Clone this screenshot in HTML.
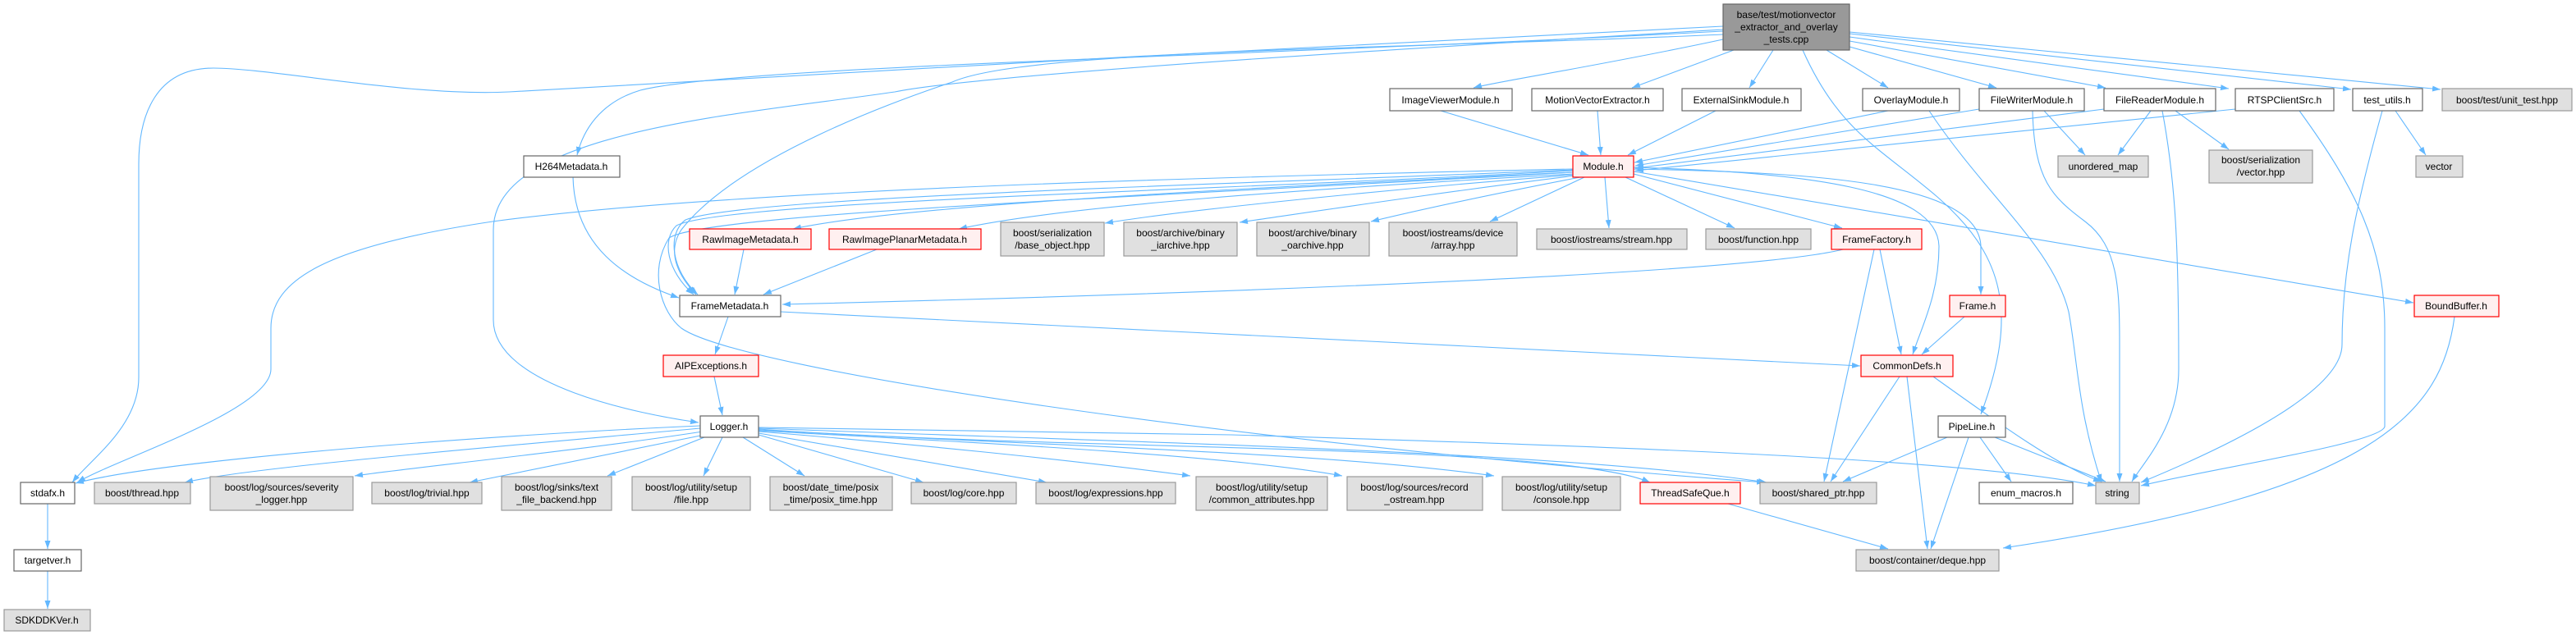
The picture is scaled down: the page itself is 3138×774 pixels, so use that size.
<!DOCTYPE html>
<html><head><meta charset="utf-8"><style>
html,body{margin:0;padding:0;background:#fff;}
svg{display:block;}
text{font-family:"Liberation Sans",Arial,sans-serif;font-size:12px;fill:#000;text-anchor:middle;}
.e{fill:none;stroke:#63b8ff;stroke-width:1.1;marker-end:url(#a);}
.w{fill:#fff;stroke:#666;stroke-width:1.2;}
.g{fill:#e0e0e0;stroke:#999;stroke-width:1.2;}
.r{fill:#fff0f0;stroke:#f00;stroke-width:1.2;}
.m{fill:#999;stroke:#666;stroke-width:1.2;}
</style></head><body>
<svg width="3138" height="774" viewBox="0 0 3138 774" xmlns="http://www.w3.org/2000/svg">
<defs><marker id="a" markerWidth="11" markerHeight="8" refX="10" refY="3.5" orient="auto" markerUnits="userSpaceOnUse"><path d="M0,0 L10,3.5 L0,7 z" fill="#63b8ff"/></marker></defs>

<!-- edges from main -->
<path class="e" d="M2099,32 C1700,50 1000,90 620,112 C500,118 330,83 260,83 C190,83 169,140 169,200 L169,460 C169,520 110,560 88,588"/>
<path class="e" d="M2099,36 C1700,60 1200,90 1090,112 C900,140 601,160 601,280 L601,390 C601,470 780,505 851,515"/>
<path class="e" d="M2099,38 C1500,70 900,80 780,110 C730,125 710,160 703,189"/>
<path class="e" d="M2099,42 C1700,60 1250,60 1160,100 C1100,120 900,190 830,280 C810,310 830,340 848,359"/>
<path class="e" d="M2099,48 C1950,80 1820,100 1795,107"/>
<path class="e" d="M2112,61 L1988,107"/>
<path class="e" d="M2160,61 L2131,107"/>
<path class="e" d="M2225,61 L2300,107"/>
<path class="e" d="M2253,57 L2432,107"/>
<path class="e" d="M2253,50 L2565,107"/>
<path class="e" d="M2253,45 L2715,108"/>
<path class="e" d="M2253,41 L2864,109"/>
<path class="e" d="M2253,39 L2973,109"/>
<path class="e" d="M2196,61 C2240,160 2290,180 2360,240 C2440,310 2460,380 2413,505"/>

<!-- into Module -->
<path class="e" d="M1755,135 L1935,189"/>
<path class="e" d="M1946,135 L1950,189"/>
<path class="e" d="M2090,135 L1983,189"/>
<path class="e" d="M2300,135 L1991,198"/>
<path class="e" d="M2411,133 L1992,202"/>
<path class="e" d="M2563,133 L1992,205"/>
<path class="e" d="M2723,133 L1992,208"/>

<!-- from Module -->
<path class="e" d="M1916,206 C1500,215 900,230 600,270 C400,300 330,340 330,400 L330,450 C330,500 140,560 94,588"/>
<path class="e" d="M1916,207 C1500,225 900,240 835,268 C812,285 818,330 850,359"/>
<path class="e" d="M1916,208 C1500,232 880,245 824,275 C806,292 812,330 845,359"/>
<path class="e" d="M1916,210 C1400,240 860,260 815,290 C790,330 805,380 830,400 C900,450 1500,540 2150,588"/>
<path class="e" d="M1916,210 C1500,230 1100,250 966,279"/>
<path class="e" d="M1916,212 C1600,230 1300,250 1168,279"/>
<path class="e" d="M1918,213 C1700,230 1450,255 1346,272"/>
<path class="e" d="M1920,214 C1750,235 1600,258 1510,271"/>
<path class="e" d="M1925,216 C1800,240 1720,258 1670,270"/>
<path class="e" d="M1930,216 L1815,270"/>
<path class="e" d="M1955,216 L1960,278"/>
<path class="e" d="M1980,216 L2113,278"/>
<path class="e" d="M1990,212 L2244,278"/>
<path class="e" d="M1990,206 C2200,210 2410,220 2413,300 L2413,359"/>
<path class="e" d="M1990,204 C2200,210 2360,230 2362,300 C2362,360 2340,400 2330,432"/>
<path class="e" d="M1990,209 L2940,369"/>

<!-- module deps -->
<path class="e" d="M2490,135 L2540,189"/>
<path class="e" d="M2620,135 L2580,189"/>
<path class="e" d="M2650,135 L2715,182"/>
<path class="e" d="M2350,135 C2420,240 2500,300 2520,380 C2531,440 2531,500 2560,588"/>
<path class="e" d="M2476,135 C2478,220 2500,240 2540,270 C2580,300 2582,350 2582,420 L2582,587"/>
<path class="e" d="M2634,135 C2650,220 2654,300 2654,450 C2654,520 2610,565 2597,587"/>
<path class="e" d="M2801,135 C2870,230 2905,300 2905,400 L2905,520 C2900,540 2700,570 2608,592"/>
<path class="e" d="M2902,135 C2870,250 2853,330 2853,420 C2853,480 2700,550 2608,588"/>
<path class="e" d="M2918,135 L2955,189"/>

<!-- Metadata -->
<path class="e" d="M698,216 C700,300 760,340 827,363"/>
<path class="e" d="M906,304 L895,359"/>
<path class="e" d="M1068,304 L930,359"/>
<path class="e" d="M2245,304 C2100,340 1200,365 953,371"/>
<path class="e" d="M951,380 C1500,410 2000,430 2266,446"/>
<path class="e" d="M887,386 L871,432"/>
<path class="e" d="M870,459 L880,506"/>

<!-- CommonDefs etc -->
<path class="e" d="M2314,459 L2230,587"/>
<path class="e" d="M2323,459 L2348,669"/>
<path class="e" d="M2355,459 C2440,520 2510,570 2560,587"/>
<path class="e" d="M2290,304 L2316,432"/>
<path class="e" d="M2283,304 L2222,587"/>
<path class="e" d="M2393,386 L2341,432"/>
<path class="e" d="M2372,533 L2245,587"/>
<path class="e" d="M2398,533 L2352,669"/>
<path class="e" d="M2412,533 L2450,587"/>
<path class="e" d="M2430,533 L2565,587"/>
<path class="e" d="M2105,614 L2300,669"/>
<path class="e" d="M2990,386 C2975,500 2900,600 2440,668"/>

<!-- Logger -->
<path class="e" d="M853,519 C600,530 200,560 92,589"/>
<path class="e" d="M853,522 C600,545 300,570 225,588"/>
<path class="e" d="M856,526 C700,550 500,570 432,580"/>
<path class="e" d="M858,530 L572,588"/>
<path class="e" d="M858,533 L740,580"/>
<path class="e" d="M880,533 L857,580"/>
<path class="e" d="M905,533 L980,580"/>
<path class="e" d="M924,530 L1125,588"/>
<path class="e" d="M924,528 L1275,588"/>
<path class="e" d="M924,526 C1100,540 1300,560 1450,580"/>
<path class="e" d="M924,525 C1200,540 1500,555 1635,580"/>
<path class="e" d="M924,524 C1300,545 1600,550 1820,580"/>
<path class="e" d="M924,523 C1300,550 1900,540 2010,588"/>
<path class="e" d="M924,522 C1400,540 1900,550 2152,588"/>
<path class="e" d="M924,521 L1500,530 C2000,545 2400,560 2553,592"/>

<path class="e" d="M58,614 L58,669"/>
<path class="e" d="M58,696 L58,742"/>

<!-- nodes -->
<rect class="m" x="2099" y="5" width="154" height="56"/><text x="2176" y="22">base/test/motionvector</text><text x="2176" y="37">_extractor_and_overlay</text><text x="2176" y="52">_tests.cpp</text>

<rect class="w" x="1693" y="108" width="149" height="27"/><text x="1767" y="126">ImageViewerModule.h</text>
<rect class="w" x="1866" y="108" width="160" height="27"/><text x="1946" y="126">MotionVectorExtractor.h</text>
<rect class="w" x="2049" y="108" width="145" height="27"/><text x="2121" y="126">ExternalSinkModule.h</text>
<rect class="w" x="2269" y="108" width="118" height="27"/><text x="2328" y="126">OverlayModule.h</text>
<rect class="w" x="2411" y="108" width="128" height="27"/><text x="2475" y="126">FileWriterModule.h</text>
<rect class="w" x="2563" y="108" width="136" height="27"/><text x="2631" y="126">FileReaderModule.h</text>
<rect class="w" x="2723" y="108" width="120" height="27"/><text x="2783" y="126">RTSPClientSrc.h</text>
<rect class="w" x="2866" y="108" width="85" height="27"/><text x="2908" y="126">test_utils.h</text>
<rect class="g" x="2975" y="108" width="158" height="27"/><text x="3054" y="126">boost/test/unit_test.hpp</text>

<rect class="w" x="638" y="190" width="117" height="26"/><text x="696" y="207">H264Metadata.h</text>
<rect class="r" x="1916" y="190" width="74" height="26"/><text x="1953" y="207">Module.h</text>
<rect class="g" x="2507" y="190" width="110" height="26"/><text x="2562" y="207">unordered_map</text>
<rect class="g" x="2691" y="183" width="126" height="40"/><text x="2754" y="199">boost/serialization</text><text x="2754" y="214">/vector.hpp</text>
<rect class="g" x="2943" y="190" width="57" height="26"/><text x="2971" y="207">vector</text>

<rect class="r" x="840" y="279" width="148" height="25"/><text x="914" y="296">RawImageMetadata.h</text>
<rect class="r" x="1010" y="279" width="185" height="25"/><text x="1102" y="296">RawImagePlanarMetadata.h</text>
<rect class="g" x="1219" y="271" width="126" height="41"/><text x="1282" y="288">boost/serialization</text><text x="1282" y="303">/base_object.hpp</text>
<rect class="g" x="1369" y="271" width="138" height="41"/><text x="1438" y="288">boost/archive/binary</text><text x="1438" y="303">_iarchive.hpp</text>
<rect class="g" x="1531" y="271" width="137" height="41"/><text x="1599" y="288">boost/archive/binary</text><text x="1599" y="303">_oarchive.hpp</text>
<rect class="g" x="1692" y="271" width="156" height="41"/><text x="1770" y="288">boost/iostreams/device</text><text x="1770" y="303">/array.hpp</text>
<rect class="g" x="1872" y="279" width="183" height="25"/><text x="1963" y="296">boost/iostreams/stream.hpp</text>
<rect class="g" x="2078" y="279" width="128" height="25"/><text x="2142" y="296">boost/function.hpp</text>
<rect class="r" x="2231" y="279" width="110" height="25"/><text x="2286" y="296">FrameFactory.h</text>

<rect class="w" x="828" y="360" width="123" height="26"/><text x="889" y="377">FrameMetadata.h</text>
<rect class="r" x="2375" y="360" width="68" height="26"/><text x="2409" y="377">Frame.h</text>
<rect class="r" x="2941" y="360" width="103" height="26"/><text x="2992" y="377">BoundBuffer.h</text>

<rect class="r" x="808" y="433" width="116" height="26"/><text x="866" y="450">AIPExceptions.h</text>
<rect class="r" x="2267" y="433" width="112" height="26"/><text x="2323" y="450">CommonDefs.h</text>

<rect class="w" x="853" y="507" width="71" height="26"/><text x="888" y="524">Logger.h</text>
<rect class="w" x="2361" y="507" width="82" height="26"/><text x="2402" y="524">PipeLine.h</text>

<rect class="w" x="25" y="588" width="66" height="26"/><text x="58" y="605">stdafx.h</text>
<rect class="g" x="115" y="588" width="117" height="26"/><text x="173" y="605">boost/thread.hpp</text>
<rect class="g" x="256" y="581" width="174" height="41"/><text x="343" y="598">boost/log/sources/severity</text><text x="343" y="613">_logger.hpp</text>
<rect class="g" x="453" y="588" width="134" height="26"/><text x="520" y="605">boost/log/trivial.hpp</text>
<rect class="g" x="611" y="581" width="134" height="41"/><text x="678" y="598">boost/log/sinks/text</text><text x="678" y="613">_file_backend.hpp</text>
<rect class="g" x="770" y="581" width="144" height="41"/><text x="842" y="598">boost/log/utility/setup</text><text x="842" y="613">/file.hpp</text>
<rect class="g" x="938" y="581" width="149" height="41"/><text x="1012" y="598">boost/date_time/posix</text><text x="1012" y="613">_time/posix_time.hpp</text>
<rect class="g" x="1110" y="588" width="128" height="26"/><text x="1174" y="605">boost/log/core.hpp</text>
<rect class="g" x="1262" y="588" width="170" height="26"/><text x="1347" y="605">boost/log/expressions.hpp</text>
<rect class="g" x="1457" y="581" width="160" height="41"/><text x="1537" y="598">boost/log/utility/setup</text><text x="1537" y="613">/common_attributes.hpp</text>
<rect class="g" x="1641" y="581" width="165" height="41"/><text x="1723" y="598">boost/log/sources/record</text><text x="1723" y="613">_ostream.hpp</text>
<rect class="g" x="1830" y="581" width="144" height="41"/><text x="1902" y="598">boost/log/utility/setup</text><text x="1902" y="613">/console.hpp</text>
<rect class="r" x="1998" y="588" width="122" height="26"/><text x="2059" y="605">ThreadSafeQue.h</text>
<rect class="g" x="2144" y="588" width="142" height="26"/><text x="2215" y="605">boost/shared_ptr.hpp</text>
<rect class="w" x="2411" y="588" width="114" height="26"/><text x="2468" y="605">enum_macros.h</text>
<rect class="g" x="2553" y="588" width="53" height="26"/><text x="2579" y="605">string</text>

<rect class="w" x="17" y="670" width="82" height="26"/><text x="58" y="687">targetver.h</text>
<rect class="g" x="2261" y="670" width="174" height="26"/><text x="2348" y="687">boost/container/deque.hpp</text>
<rect class="g" x="5" y="743" width="105" height="26"/><text x="57" y="760">SDKDDKVer.h</text>
</svg>
</body></html>
